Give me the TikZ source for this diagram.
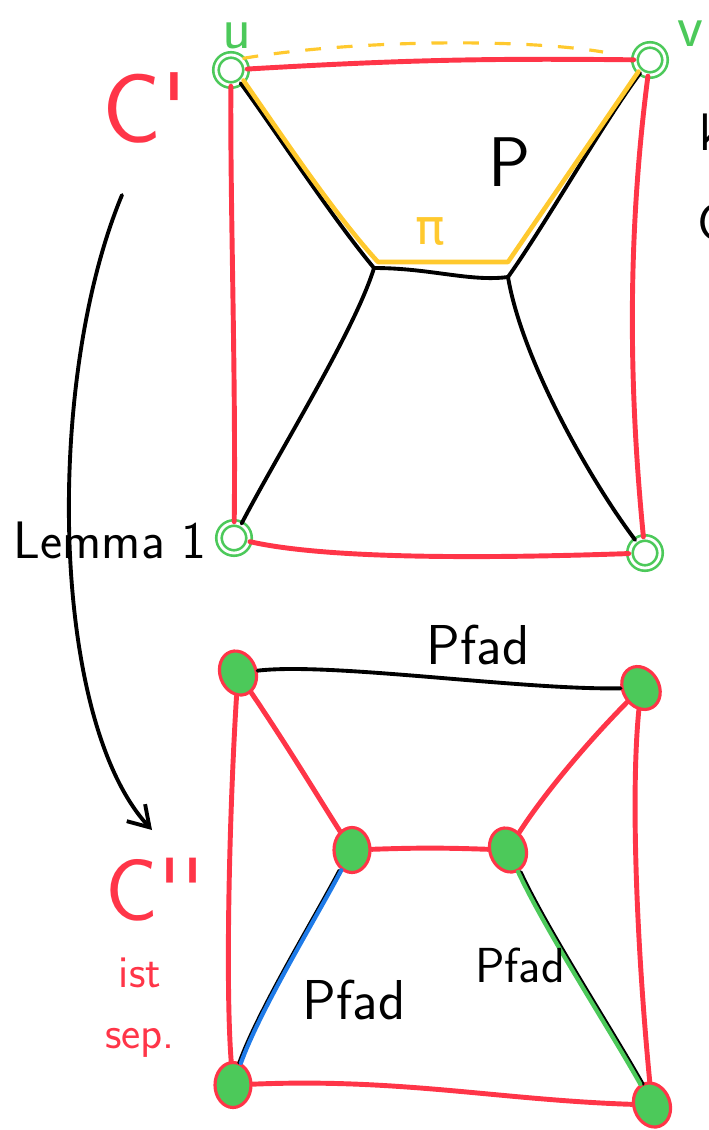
\documentclass[tikz,border=0pt]{standalone}
\usepackage{fontspec}
\usepackage{tikz}
\usetikzlibrary{arrows.meta,shapes.geometric}
\newfontfamily\greekfont{DejaVu Sans}
\definecolor{sred}{HTML}{FF3548}
\definecolor{sgreen}{HTML}{4CC95A}
\definecolor{syellow}{HTML}{FFC92E}
\definecolor{sblue}{HTML}{1F7BE8}

\begin{document}
\begin{tikzpicture}[x=0.02cm,y=-0.02cm,
    lbl/.style={font=\sffamily\fontsize{#1}{#1}\selectfont,inner sep=0pt},
    vring/.style={circle,draw=sgreen,line width=1.5pt,double=white,
                  double distance=1.6pt,minimum size=0.6cm,inner sep=0pt},
    vfull/.style={ellipse,draw=sred,fill=sgreen,line width=1.8pt,
                  minimum width=0.72cm,minimum height=0.9cm,inner sep=0pt},
    redline/.style={sred,line width=2.8pt,line cap=round,line join=round},
    blkline/.style={black,line width=2.2pt,line cap=round,line join=round},
    pipath/.style={syellow,line width=2.6pt,line cap=round,line join=round},
    bluepath/.style={sblue,line width=2.4pt,line cap=round},
    greenpath/.style={sgreen,line width=2.4pt,line cap=round},
  ]
  \useasboundingbox (0,0) rectangle (708,1130);

  % upper graph C'
  \node[vring] (u) at (231,70) {};
  \node[vring] (v) at (650,60) {};
  \node[vring] (bl) at (234,538) {};
  \node[vring] (br) at (645,553) {};
  \coordinate (m1) at (374,268);
  \coordinate (m2) at (508,277);
  \coordinate (y1) at (378,262);
  \coordinate (y2) at (508,262);
  \coordinate (dend) at (603,52);

  \draw[redline] (u) to[bend left=2] (v);
  \draw[redline] (v) .. controls (628,230) and (628,380) .. (br);
  \draw[redline] (br) .. controls (500,558) and (330,560) .. (bl);
  \draw[redline] (bl) .. controls (236,380) and (230,200) .. (u);

  \draw[blkline] (u) .. controls (275,130) and (330,215) .. (m1);
  \draw[blkline] (m1) .. controls (430,268) and (470,282) .. (m2);
  \draw[blkline] (m2) .. controls (545,225) and (605,120) .. (v);
  \draw[blkline] (m1) .. controls (355,330) and (280,450) .. (bl);
  \draw[blkline] (m2) .. controls (522,360) and (590,480) .. (br);

  \draw[pipath] (u.-40) .. controls (285,140) and (335,215) .. (y1)
    -- (y2) -- (v.south west);
  \draw[syellow,line width=1.8pt,dash pattern=on 9pt off 9pt]
    (u.north east) .. controls (350,40) and (520,38) .. (dend);

  \node[lbl=34,text=sgreen] (ulbl) at (237,36) {u};
  \node[lbl=34,text=sgreen] (vlbl) at (690,34) {v};
  \node[lbl=40] (plbl) at (510,162) {P};
  \node[text=syellow,inner sep=0pt,font=\greekfont\fontsize{28}{28}\selectfont]
    (pilbl) at (430,232) {π};
  \node[lbl=56,text=sred] (c1) at (145,108) {C\textquotesingle};
  \node[lbl=30,anchor=west] (cut1) at (699,132) {k};
  \node[lbl=30,anchor=west] (cut2) at (697,222) {C};

  % Lemma 1 arrow
  \coordinate (ltop) at (122,195);
  \coordinate (lbot) at (152,830);
  \draw[blkline,-{Straight Barb[length=4mm,width=5mm]}]
    (ltop) .. controls (45,380) and (50,720) .. (lbot);
  \node[lbl=30] (lemma) at (110,540) {Lemma 1};

  % lower graph C''
  \node[vfull,rotate=20] (a) at (238,673) {};
  \node[vfull,rotate=30] (b) at (641,688) {};
  \node[vfull] (c) at (352,850) {};
  \node[vfull,rotate=20] (d) at (508,850) {};
  \node[vfull] (e) at (233,1085) {};
  \node[vfull,rotate=20] (f) at (652,1105) {};

  \draw[redline] (a) .. controls (230,800) and (225,980) .. (e);
  \draw[redline] (b) .. controls (630,800) and (638,960) .. (f);
  \draw[redline] (e) .. controls (400,1078) and (500,1100) .. (f);
  \draw[redline] (a) .. controls (290,750) and (320,800) .. (c);
  \draw[redline] (b) .. controls (580,750) and (540,800) .. (d);
  \draw[redline] (c) to[bend left=2] (d);

  \draw[blkline] (a) .. controls (330,662) and (520,690) .. (b);
  \draw[blkline,line width=1.6pt,transform canvas={xshift=-1.3pt}]
    (c) .. controls (315,920) and (260,1010) .. (e);
  \draw[bluepath] (c) .. controls (315,920) and (260,1010) .. (e);
  \draw[blkline,line width=1.8pt,transform canvas={xshift=1.6pt}]
    (d) .. controls (545,930) and (610,1030) .. (f);
  \draw[greenpath] (d) .. controls (545,930) and (610,1030) .. (f);

  \node[lbl=32] (pfad1) at (478,645) {Pfad};
  \node[lbl=32] (pfad2) at (354,1000) {Pfad};
  \node[lbl=28] (pfad3) at (520,965) {Pfad};
  \node[lbl=50,text=sred] (c2) at (155,890) {C\textquotesingle\textquotesingle};
  \node[lbl=26,text=sred] (ist) at (140,973) {ist};
  \node[lbl=26,text=sred] (sep) at (140,1043) {sep.};
\end{tikzpicture}
\end{document}
